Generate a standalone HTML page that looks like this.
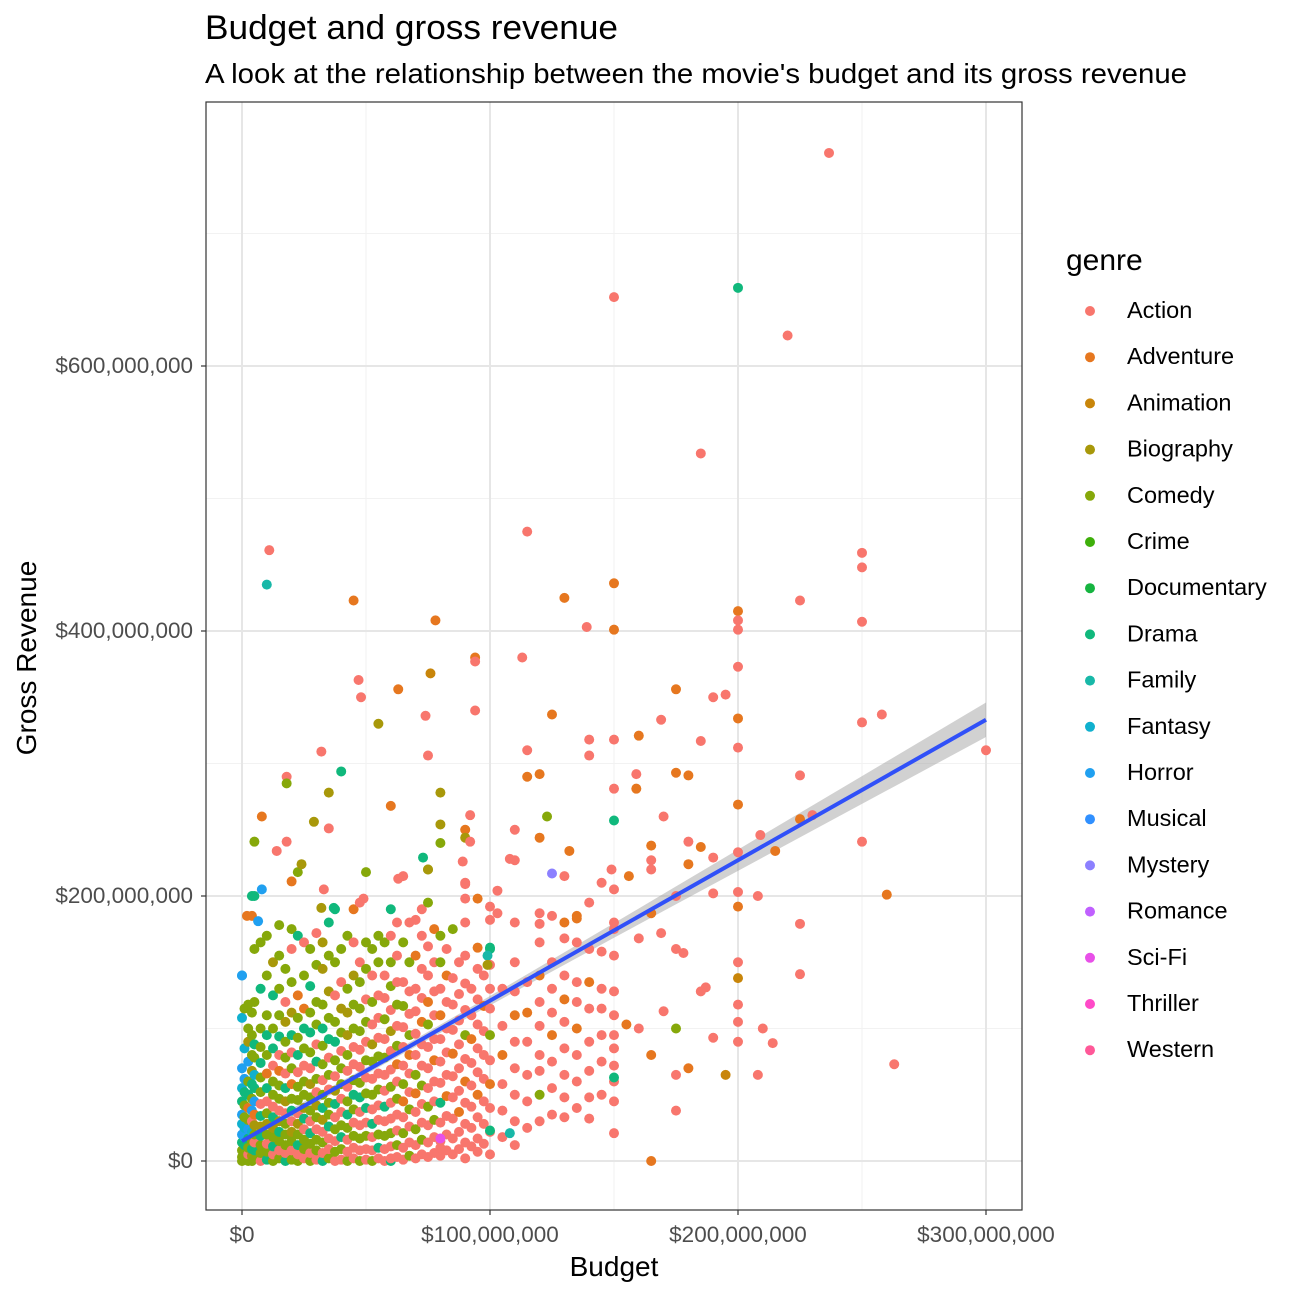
<!DOCTYPE html>
<html><head><meta charset="utf-8"><style>
body{margin:0;background:#fff;font-family:"Liberation Sans",Arial,sans-serif}
svg text{font-family:"Liberation Sans",Arial,sans-serif}
</style></head><body>
<svg id="chart" width="1296" height="1296" viewBox="0 0 1296 1296">
<rect width="1296" height="1296" fill="#fff"/>
<text x="205" y="39" style="font-size:34px" textLength="413" lengthAdjust="spacingAndGlyphs" fill="#000">Budget and gross revenue</text>
<text x="205" y="83" style="font-size:28px" textLength="982" lengthAdjust="spacingAndGlyphs" fill="#000">A look at the relationship between the movie's budget and its gross revenue</text>
<g id="grid"></g>
<g id="band"></g>
<g id="points"></g>
<g id="fit"></g>
<rect x="206" y="102" width="816" height="1108" fill="none" stroke="#333" stroke-width="1.2"/>
<g id="axes"></g>
<text x="614" y="1276" style="font-size:28px" text-anchor="middle">Budget</text>
<text transform="translate(36,658) rotate(-90)" style="font-size:28px" text-anchor="middle">Gross Revenue</text>
<text x="1066" y="270" style="font-size:30px">genre</text>
<g id="legend"></g>
</svg>
<script>
const genres=["Action","Adventure","Animation","Biography","Comedy","Crime","Documentary","Drama","Family","Fantasy","Horror","Musical","Mystery","Romance","Sci-Fi","Thriller","Western"];
const genreColors=["#F8766D","#E6771F","#C8850A","#A8980A","#86A80A","#3EAF0A","#16B440","#10B87C","#18B8A8","#10B0CE","#20A0F0","#3090FF","#8C80FF","#C060FF","#E850E8","#FF4AC8","#FF5898"];
const xTicks=[0,100,200,300];
const xTickLabels=["$0","$100,000,000","$200,000,000","$300,000,000"];
const yTicks=[0,200,400,600];
const yTickLabels=["$0","$200,000,000","$400,000,000","$600,000,000"];
const fitIntercept=15;
const fitSlope=1.06;
const bandBudgets=[0,50,100,150,200,250,300];
const bandHalfWidth=[4,2.5,3.5,5.5,8,10.5,13];
const columns=[
[0,[0,3,8,14,20,28,35,45,55,70,108,140],"eeehkjkhjkjj"],
[1,[1,6,12,18,25,33,42,52,62,85,115],"eehkjeehkje"],
[2.5,[0,5,10,17,24,31,40,50,60,75,90,100,118],"eaehkebhekdee"],
[4,[0,4,9,15,22,30,38,47,58,68,80,95,112,185],"edhejakehdeeeb"],
[5,[2,8,14,20,27,35,45,55,65,78,88,120,160,200],"ehaedbkhjeheeh"],
[7.5,[0,6,12,19,26,34,43,52,63,74,86,100,130,165],"aeehdhaeeheehe"],
[10,[1,7,13,20,28,36,45,55,66,80,95,110,140,170],"heaedeahbeheee"],
[12.5,[0,5,11,18,25,33,41,50,60,72,85,100,125,150],"eahedhaeeahehd"],
[15,[2,8,15,22,30,38,47,57,68,80,94,110,130,155,178],"eaehdaeebaheeee"],
[17.5,[0,6,12,20,28,36,45,55,66,78,90,105,120,145],"haeeeadhaeedae"],
[20,[1,8,15,22,30,38,47,58,70,82,95,112,135,160,175],"eaedahebeahdeae"],
[22.5,[0,5,12,20,28,36,46,56,67,80,93,108,125,170,218],"eahedaeeaheebhe"],
[25,[2,9,16,24,32,40,50,60,72,85,100,115,140,165],"aeeahdeeaehbea"],
[27.5,[0,6,13,21,30,38,48,58,70,82,97,112,132,160],"eaehaeedaehehe"],
[30,[1,8,16,24,33,42,52,62,75,88,103,120,148,172],"aeeaedaehaeeea"],
[32.5,[0,6,14,22,31,40,50,61,73,87,100,118,145,165],"haeadheaeehedd"],
[35,[2,9,17,26,35,44,54,65,78,92,108,128,155,180],"eaaheeaeahedeh"],
[37.5,[0,7,15,24,33,43,53,64,76,90,105,125,150,190],"aeaeahdaeheaeh"],
[40,[1,9,18,27,37,47,58,70,83,97,115,135,160,294],"aeheaaeeaedaeh"],
[42.5,[0,7,16,25,35,45,56,68,80,95,112,130,170],"eaaeheaaeddee"],
[45,[2,10,19,29,39,50,61,73,86,100,118,140,165,190],"aaeaeheaaeedab"],
[47.5,[0,8,17,27,37,48,59,71,84,98,115,135,150,195],"eaeaaheaaeeeaa"],
[50,[1,9,19,29,40,51,63,76,90,105,122,145,165,218],"aaeaheaeaeaeee"],
[52.5,[0,8,18,28,39,50,62,75,88,103,120,140,160],"eaahaeaedaeae"],
[55,[2,10,20,31,42,54,66,79,93,108,125,150,170],"aheaaeaeaaaee"],
[57.5,[0,9,19,30,41,53,65,78,92,107,123,140,165],"aaeahaaeaeaae"],
[60,[0,2,11,21,32,44,56,69,83,98,114,132,150,170,190],"haaeaaeaadaeeah"],
[62.5,[3,12,23,35,47,60,73,87,102,118,135,155,180],"aeaaeabeaeaaa"],
[65,[1,10,21,33,45,58,72,86,101,117,135,165,215],"aaeabeaaaeaea"],
[67.5,[4,14,26,39,52,66,80,95,111,128,150,180],"eaaeaabeaaea"],
[70,[2,12,24,37,51,65,80,96,113,130,155,182],"aaeabeaaaaba"],
[72.5,[5,16,29,43,57,72,88,105,123,145,170,190],"aeaaeaabaaaa"],
[75,[3,14,27,41,55,70,86,103,120,140,162,195,220],"aaaeaaaebaaee"],
[77.5,[6,18,31,45,60,76,92,110,128,150,175],"aaeaabaaaab"],
[80,[4,10,15,29,44,59,75,92,110,130,150,170,240],"aaaahaaabaeee"],
[82.5,[8,20,34,49,65,82,100,120,140,160],"aaabaaaaba"],
[85,[5,17,32,48,64,81,99,118,138,175],"aaaaabaaae"],
[87.5,[9,22,37,53,70,88,106,126,150],"aabaaaaaa"],
[90,[2,14,28,44,60,77,95,114,134,155,180,210],"aaaabaeaaaaa"],
[92.5,[11,25,41,57,74,92,110,130],"aaaaabaa"],
[95,[7,17,33,50,67,85,103,122,145,198],"aaabaaaaab"],
[97.5,[13,28,45,62,80,98,117,140],"aaaaaaba"],
[100,[5,22,40,58,76,95,115,130,148,160,182],"aaabaeaaaha"],
[105,[18,38,58,80,102,130],"aaabaa"],
[110,[12,30,50,70,90,110,128,150,180],"aaaaabaaa"],
[115,[25,45,65,90,112,135],"aaaaba"],
[120,[30,50,68,80,102,120,140,165],"aeaaaaba"],
[125,[35,55,75,95,112,130,150,185],"aaabaaaa"],
[130,[33,48,65,85,105,122,140,168,180],"aaaaabaab"],
[135,[40,60,80,100,120,135,165,185],"aaabaaab"],
[140,[32,48,68,90,115,135,160,195],"aaaaabaa"],
[145,[50,75,95,115,130,158,210],"aaaaaaa"],
[150,[45,60,72,85,95,110,128,155,175],"aaaaaaaaa"]
];
const outliers=[
[236.7,760.8,0],[150,652,0],[200,659,7],[220,623,0],[185,534,0],[11,461,0],[10,435,8],[115,475,0],
[250,459,0],[250,448,0],[45,423,1],[150,436,1],[130,425,1],[78,408,1],[139,403,0],[150,401,1],
[200,415,1],[200,408,0],[200,401,0],[225,423,0],[250,407,0],[94,380,1],[94,377,0],[113,380,0],
[76,368,2],[47,363,0],[63,356,1],[48,350,0],[94,340,0],[55,330,3],[74,336,0],[125,337,1],[169,333,0],
[175,356,1],[190,350,0],[195,352,0],[200,373,0],[200,334,1],[200,312,0],[250,331,0],[258,337,0],
[300,310,0],[140,318,0],[150,318,0],[160,321,1],[185,317,0],[115,310,0],[32,309,0],[75,306,0],[140,306,0],
[159,292,0],[159,281,1],[150,281,0],[115,290,1],[120,292,1],[175,293,1],[180,291,1],[225,291,0],
[18,290,0],[18,285,4],[35,278,3],[80,278,3],[60,268,1],[200,269,1],[8,260,1],[123,260,4],[170,260,0],
[92,261,0],[150,257,7],[225,258,1],[230,261,0],[29,256,3],[80,254,3],[35,251,0],[90,250,1],[90,244,3],
[110,250,0],[5,241,4],[18,241,0],[120,244,1],[92,241,0],[180,241,0],[250,241,0],[14,234,0],[209,246,0],
[215,234,1],[132,234,1],[165,238,1],[185,237,1],[200,233,0],[73,229,7],[108,228,0],[110,227,0],[89,226,0],
[149,220,0],[156,215,1],[190,229,0],[180,224,1],[125,217,12],[130,215,0],[165,227,0],[165,220,0],[24,224,3],
[75,220,3],[20,211,1],[63,213,0],[90,209,0],[33,205,0],[8,205,10],[90,198,0],[103,204,0],[150,205,0],
[190,202,0],[200,203,0],[200,192,1],[208,200,0],[260,201,1],[37,191,7],[49,198,0],[32,191,3],[100,192,0],
[150,180,0],[165,187,1],[175,200,0],[120,187,0],[120,179,0],[135,183,1],[103,187,0],[2,185,1],[6.5,181,10],
[225,179,0],[169,172,0],[175,160,0],[178,157,0],[160,168,0],[200,150,0],[200,138,2],[225,141,0],
[100,161,7],[99,155,8],[95,161,1],[99,148,3],[187,131,0],[185,128,0],[214,89,0],[208,65,0],[263,73,0],
[195,65,2],[165,0,1],[150,21,0],[175,38,0],[175,65,0],[150,63,7],[100,23,7],[108,21,8],[0,140,10],
[4,200,7],[175,100,4],[180,70,1],[160,100,0],[170,113,0],[200,90,0],[200,105,0],[200,118,0],[210,100,0],
[190,93,0],[155,103,1],[165,80,1],[80,17,14]
];
const NS="http://www.w3.org/2000/svg";
const X0=242,XS=2.48,Y0=1161,YS=1.325;
function xScale(b){return X0+b*XS;}
function yScale(g){return Y0-g*YS;}
function mk(tag,attrs,parent){const e=document.createElementNS(NS,tag);for(const k in attrs)e.setAttribute(k,attrs[k]);parent.appendChild(e);return e;}
const grid=document.getElementById('grid');
[50,150,250].forEach(v=>{const l=mk('line',{x1:xScale(v),x2:xScale(v),y1:102,y2:1210,stroke:'#F2F2F2','stroke-width':1},grid);

});
[100,300,500,700].forEach(v=>{const l=mk('line',{x1:206,x2:1022,y1:yScale(v),y2:yScale(v),stroke:'#F2F2F2','stroke-width':1},grid);

});
xTicks.forEach(v=>{const l=mk('line',{x1:xScale(v),x2:xScale(v),y1:102,y2:1210,stroke:'#E6E6E6','stroke-width':2},grid);

});
yTicks.forEach(v=>{const l=mk('line',{x1:206,x2:1022,y1:yScale(v),y2:yScale(v),stroke:'#E6E6E6','stroke-width':2},grid);

});
const axes=document.getElementById('axes');
xTicks.forEach((v,i)=>{mk('line',{x1:xScale(v),x2:xScale(v),y1:1210,y2:1215,stroke:'#333','stroke-width':1.2},axes);
const t=mk('text',{x:xScale(v),y:1242,style:'font-size:22.5px',fill:'#4D4D4D','text-anchor':'middle'},axes);t.textContent=xTickLabels[i];

});
yTicks.forEach((v,i)=>{mk('line',{x1:201,x2:206,y1:yScale(v),y2:yScale(v),stroke:'#333','stroke-width':1.2},axes);
const t=mk('text',{x:193,y:yScale(v)+7,style:'font-size:22.5px',fill:'#4D4D4D','text-anchor':'end'},axes);t.textContent=yTickLabels[i];

});
const pts=document.getElementById('points');
columns.forEach(c=>{c[1].forEach((g,j)=>{const k=c[2].charCodeAt(j)-97;
const p=mk('circle',{cx:xScale(c[0]),cy:yScale(g),r:5,fill:genreColors[k]},pts);

});});
outliers.forEach(o=>{const p=mk('circle',{cx:xScale(o[0]),cy:yScale(o[1]),r:5,fill:genreColors[o[2]]},pts);

});
const band=document.getElementById('band');
let up=[],dn=[];
bandBudgets.forEach((b,i)=>{const m=fitIntercept+fitSlope*b;up.push(xScale(b)+','+yScale(m+bandHalfWidth[i]));dn.unshift(xScale(b)+','+yScale(m-bandHalfWidth[i]));});
const bp=mk('polygon',{points:up.concat(dn).join(' '),fill:'#999',opacity:0.45},band);


const fit=document.getElementById('fit');
const fl=mk('line',{x1:xScale(0),y1:yScale(fitIntercept),x2:xScale(300),y2:yScale(fitIntercept+fitSlope*300),stroke:'#3050F8','stroke-width':4},fit);


const leg=document.getElementById('legend');
genres.forEach((g,i)=>{const y=311+46.2*i;
const gi=mk('g',{},leg);


mk('circle',{cx:1090,cy:y,r:5,fill:genreColors[i]},gi);
const t=mk('text',{x:1127,y:y+7,style:'font-size:23.5px',fill:'#000'},gi);t.textContent=g;});
</script>
</body></html>
